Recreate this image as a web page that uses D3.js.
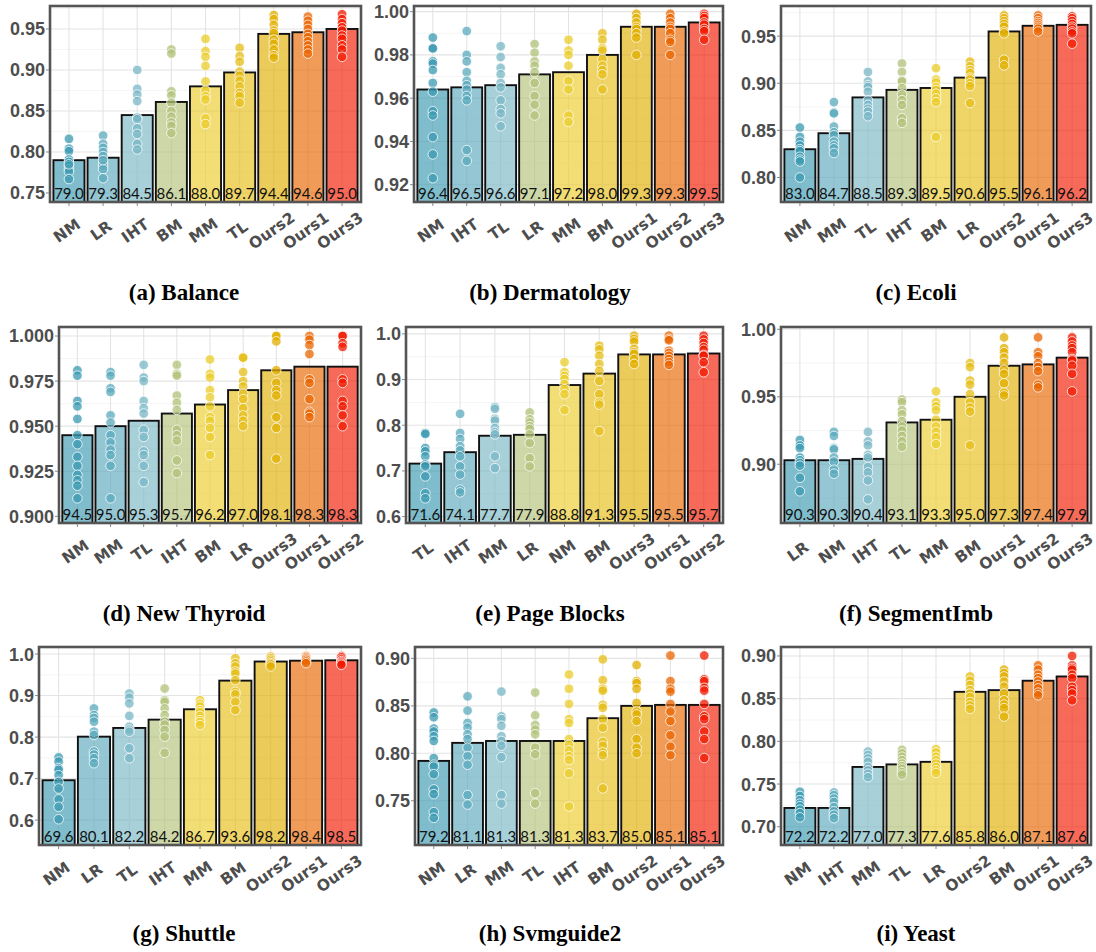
<!DOCTYPE html>
<html lang="en">
<head>
<meta charset="UTF-8">
<title>Accuracy per dataset</title>
<script src="https://cdn.jsdelivr.net/npm/d3@7"></script>
<style>
    body { margin: 0; background: #fff; }
    .ytick { font: bold 18px "Liberation Sans", Arial, sans-serif; fill: #4d4d4d; }
    .xtick { font: bold 15.5px "DejaVu Sans", Verdana, sans-serif; fill: #4d4d4d; }
    .val { font: 15px Lato, "Open Sans", sans-serif; fill: #111; }
    .caption { font: bold 23px "Liberation Serif", "Times New Roman", serif; fill: #000; }
</style>
</head>
<body>
<div id="chart"></div>
<script>
"use strict";

// (a) Balance
var balanceMethods = ["NM", "LR", "IHT", "BM", "MM", "TL", "Ours2", "Ours1", "Ours3"];
var balanceMeans   = [0.790, 0.793, 0.845, 0.861, 0.880, 0.897, 0.944, 0.946, 0.950];
var balanceRuns = [
    [0.816, 0.804, 0.801, 0.791, 0.788, 0.783, 0.779, 0.776, 0.767, 0.785],
    [0.820, 0.810, 0.805, 0.800, 0.795, 0.786, 0.783, 0.779, 0.768, 0.790],
    [0.900, 0.877, 0.870, 0.862, 0.842, 0.840, 0.829, 0.822, 0.810, 0.803],
    [0.925, 0.920, 0.874, 0.869, 0.860, 0.850, 0.843, 0.836, 0.832, 0.823],
    [0.938, 0.923, 0.916, 0.905, 0.886, 0.875, 0.868, 0.864, 0.841, 0.834],
    [0.927, 0.917, 0.910, 0.898, 0.893, 0.887, 0.880, 0.872, 0.868, 0.860],
    [0.967, 0.962, 0.955, 0.948, 0.945, 0.937, 0.932, 0.925, 0.918, 0.915],
    [0.965, 0.960, 0.955, 0.950, 0.944, 0.940, 0.935, 0.930, 0.925, 0.920],
    [0.968, 0.962, 0.957, 0.952, 0.948, 0.942, 0.938, 0.930, 0.925, 0.916]
];
var balanceTicks = [0.75, 0.80, 0.85, 0.90, 0.95];
var balanceLimits = [0.739, 0.978];

// (b) Dermatology
var dermMethods = ["NM", "IHT", "TL", "LR", "MM", "BM", "Ours1", "Ours2", "Ours3"];
var dermMeans   = [0.964, 0.965, 0.966, 0.971, 0.972, 0.980, 0.993, 0.993, 0.995];
var dermRuns = [
    [0.988, 0.983, 0.983, 0.977, 0.976, 0.973, 0.967, 0.963, 0.954, 0.952, 0.942, 0.934, 0.923],
    [0.991, 0.980, 0.977, 0.972, 0.968, 0.966, 0.964, 0.961, 0.959, 0.936, 0.931],
    [0.984, 0.979, 0.974, 0.971, 0.967, 0.965, 0.959, 0.955, 0.953, 0.947],
    [0.985, 0.981, 0.977, 0.975, 0.972, 0.967, 0.961, 0.957, 0.952],
    [0.987, 0.982, 0.980, 0.975, 0.968, 0.964, 0.952, 0.949],
    [0.990, 0.987, 0.983, 0.982, 0.978, 0.975, 0.973, 0.971, 0.964],
    [0.999, 0.997, 0.995, 0.993, 0.992, 0.990, 0.988, 0.980],
    [0.999, 0.997, 0.995, 0.993, 0.992, 0.990, 0.987, 0.986, 0.980],
    [0.999, 0.998, 0.997, 0.995, 0.994, 0.992, 0.991, 0.987]
];
var dermTicks = [0.92, 0.94, 0.96, 0.98, 1.00];
var dermLimits = [0.912, 1.0026];

// (c) Ecoli
var ecoliMethods = ["NM", "MM", "TL", "IHT", "BM", "LR", "Ours2", "Ours1", "Ours3"];
var ecoliMeans   = [0.830, 0.847, 0.885, 0.893, 0.895, 0.906, 0.955, 0.961, 0.962];
var ecoliRuns = [
    [0.853, 0.843, 0.838, 0.834, 0.830, 0.828, 0.822, 0.819, 0.817, 0.800],
    [0.880, 0.869, 0.868, 0.854, 0.848, 0.845, 0.838, 0.834, 0.831, 0.826],
    [0.912, 0.902, 0.898, 0.896, 0.891, 0.882, 0.877, 0.873, 0.870, 0.865],
    [0.921, 0.912, 0.903, 0.902, 0.895, 0.888, 0.882, 0.877, 0.863, 0.858],
    [0.916, 0.904, 0.901, 0.896, 0.893, 0.889, 0.884, 0.880, 0.843],
    [0.923, 0.918, 0.914, 0.911, 0.906, 0.904, 0.900, 0.897, 0.879],
    [0.972, 0.969, 0.966, 0.963, 0.960, 0.955, 0.953, 0.925, 0.919],
    [0.972, 0.969, 0.966, 0.964, 0.962, 0.960, 0.958, 0.955],
    [0.971, 0.969, 0.966, 0.963, 0.960, 0.958, 0.955, 0.953, 0.942]
];
var ecoliTicks = [0.80, 0.85, 0.90, 0.95];
var ecoliLimits = [0.774, 0.982];

// (d) New Thyroid
var thyroidMethods = ["NM", "MM", "TL", "IHT", "BM", "LR", "Ours3", "Ours1", "Ours2"];
var thyroidMeans   = [0.945, 0.950, 0.953, 0.957, 0.962, 0.970, 0.981, 0.983, 0.983];
var thyroidRuns = [
    [0.981, 0.978, 0.964, 0.961, 0.954, 0.945, 0.940, 0.933, 0.928, 0.923, 0.920, 0.917, 0.910],
    [0.980, 0.978, 0.971, 0.969, 0.956, 0.952, 0.945, 0.941, 0.937, 0.934, 0.928, 0.910],
    [0.984, 0.977, 0.975, 0.964, 0.960, 0.957, 0.948, 0.944, 0.936, 0.934, 0.928, 0.919],
    [0.984, 0.979, 0.978, 0.967, 0.963, 0.959, 0.948, 0.945, 0.942, 0.931, 0.924],
    [0.987, 0.979, 0.977, 0.970, 0.966, 0.961, 0.955, 0.953, 0.949, 0.944, 0.934],
    [0.988, 0.988, 0.980, 0.975, 0.972, 0.968, 0.965, 0.960, 0.956, 0.953, 0.950],
    [1.000, 1.000, 0.997, 0.981, 0.974, 0.970, 0.967, 0.955, 0.949, 0.932],
    [1.000, 0.998, 0.995, 0.990, 0.976, 0.974, 0.965, 0.958, 0.957, 0.955],
    [1.000, 1.000, 0.996, 0.994, 0.976, 0.974, 0.964, 0.961, 0.956, 0.950]
];
var thyroidTicks = [0.900, 0.925, 0.950, 0.975, 1.000];
var thyroidLimits = [0.8963, 1.005];

// (e) Page Blocks
var pageMethods = ["TL", "IHT", "MM", "LR", "NM", "BM", "Ours3", "Ours1", "Ours2"];
var pageMeans   = [0.716, 0.741, 0.777, 0.779, 0.888, 0.913, 0.955, 0.955, 0.957];
var pageRuns = [
    [0.783, 0.781, 0.750, 0.743, 0.732, 0.714, 0.710, 0.688, 0.651, 0.640],
    [0.825, 0.783, 0.770, 0.754, 0.745, 0.732, 0.710, 0.692, 0.659, 0.653],
    [0.840, 0.836, 0.814, 0.810, 0.794, 0.785, 0.780, 0.732, 0.706],
    [0.828, 0.813, 0.806, 0.798, 0.792, 0.780, 0.761, 0.728, 0.710],
    [0.938, 0.916, 0.908, 0.901, 0.890, 0.879, 0.868, 0.833],
    [0.974, 0.966, 0.952, 0.934, 0.919, 0.897, 0.868, 0.850, 0.845, 0.787],
    [0.996, 0.989, 0.983, 0.967, 0.960, 0.956, 0.945, 0.934],
    [0.996, 0.989, 0.986, 0.963, 0.958, 0.952, 0.945, 0.938, 0.932],
    [0.996, 0.988, 0.980, 0.971, 0.965, 0.954, 0.952, 0.938, 0.916]
];
var pageTicks = [0.6, 0.7, 0.8, 0.9, 1.0];
var pageLimits = [0.586, 1.015];

// (f) SegmentImb
var segmentMethods = ["LR", "NM", "IHT", "TL", "MM", "BM", "Ours1", "Ours2", "Ours3"];
var segmentMeans   = [0.903, 0.903, 0.904, 0.931, 0.933, 0.950, 0.973, 0.974, 0.979];
var segmentRuns = [
    [0.918, 0.914, 0.912, 0.905, 0.903, 0.901, 0.899, 0.890, 0.880],
    [0.924, 0.921, 0.912, 0.911, 0.905, 0.902, 0.896, 0.893],
    [0.924, 0.917, 0.914, 0.907, 0.905, 0.898, 0.894, 0.888, 0.874],
    [0.948, 0.946, 0.940, 0.937, 0.932, 0.928, 0.925, 0.921, 0.917, 0.913],
    [0.954, 0.946, 0.943, 0.940, 0.933, 0.928, 0.924, 0.920, 0.915],
    [0.975, 0.972, 0.962, 0.959, 0.952, 0.946, 0.942, 0.939, 0.914],
    [0.994, 0.986, 0.983, 0.979, 0.975, 0.970, 0.967, 0.960, 0.953, 0.951],
    [0.994, 0.983, 0.980, 0.975, 0.972, 0.969, 0.959, 0.957],
    [0.994, 0.991, 0.988, 0.986, 0.983, 0.978, 0.977, 0.973, 0.967, 0.954]
];
var segmentTicks = [0.90, 0.95, 1.00];
var segmentLimits = [0.8565, 1.0017];

// (g) Shuttle
var shuttleMethods = ["NM", "LR", "TL", "IHT", "MM", "BM", "Ours2", "Ours1", "Ours3"];
var shuttleMeans   = [0.696, 0.801, 0.822, 0.842, 0.867, 0.936, 0.982, 0.984, 0.985];
var shuttleRuns = [
    [0.751, 0.741, 0.725, 0.721, 0.708, 0.692, 0.676, 0.650, 0.632, 0.602],
    [0.869, 0.853, 0.846, 0.837, 0.813, 0.805, 0.765, 0.758, 0.749, 0.737],
    [0.905, 0.895, 0.881, 0.851, 0.825, 0.818, 0.813, 0.773, 0.749],
    [0.917, 0.889, 0.885, 0.869, 0.853, 0.837, 0.830, 0.817, 0.801, 0.762],
    [0.889, 0.880, 0.874, 0.865, 0.860, 0.851, 0.841, 0.836, 0.829],
    [0.990, 0.978, 0.970, 0.958, 0.953, 0.937, 0.909, 0.903, 0.885, 0.865],
    [0.994, 0.990, 0.986, 0.982, 0.978, 0.975, 0.970],
    [0.995, 0.992, 0.989, 0.986, 0.982, 0.978],
    [0.995, 0.992, 0.987, 0.983, 0.980, 0.977, 0.974]
];
var shuttleTicks = [0.6, 0.7, 0.8, 0.9, 1.0];
var shuttleLimits = [0.54, 1.017];

// (h) Svmguide2
var svmMethods = ["NM", "LR", "MM", "TL", "IHT", "BM", "Ours2", "Ours1", "Ours3"];
var svmMeans   = [0.792, 0.811, 0.813, 0.813, 0.813, 0.837, 0.850, 0.851, 0.851];
var svmRuns = [
    [0.843, 0.838, 0.826, 0.823, 0.818, 0.813, 0.795, 0.788, 0.786, 0.778, 0.762, 0.757, 0.738, 0.732],
    [0.860, 0.845, 0.832, 0.827, 0.820, 0.815, 0.806, 0.797, 0.788, 0.756, 0.746],
    [0.865, 0.839, 0.836, 0.829, 0.818, 0.813, 0.808, 0.796, 0.756, 0.747],
    [0.864, 0.840, 0.830, 0.825, 0.820, 0.806, 0.799, 0.758, 0.747],
    [0.883, 0.868, 0.852, 0.836, 0.832, 0.815, 0.809, 0.803, 0.797, 0.793, 0.779, 0.744],
    [0.899, 0.877, 0.868, 0.866, 0.851, 0.848, 0.836, 0.827, 0.812, 0.808, 0.801, 0.798, 0.763],
    [0.893, 0.876, 0.874, 0.868, 0.853, 0.844, 0.841, 0.834, 0.815, 0.806, 0.800],
    [0.903, 0.876, 0.868, 0.865, 0.852, 0.844, 0.834, 0.819, 0.807, 0.798],
    [0.903, 0.878, 0.876, 0.869, 0.866, 0.852, 0.839, 0.836, 0.823, 0.815, 0.795]
];
var svmTicks = [0.75, 0.80, 0.85, 0.90];
var svmLimits = [0.7034, 0.912];

// (i) Yeast
var yeastMethods = ["NM", "IHT", "MM", "TL", "LR", "Ours2", "BM", "Ours1", "Ours3"];
var yeastMeans   = [0.722, 0.722, 0.770, 0.773, 0.776, 0.858, 0.860, 0.871, 0.876];
var yeastRuns = [
    [0.741, 0.736, 0.731, 0.727, 0.724, 0.720, 0.716, 0.711],
    [0.740, 0.737, 0.733, 0.729, 0.723, 0.718, 0.714, 0.710],
    [0.788, 0.784, 0.780, 0.776, 0.770, 0.766, 0.762, 0.758],
    [0.790, 0.786, 0.782, 0.778, 0.774, 0.771, 0.768, 0.764, 0.761],
    [0.791, 0.787, 0.782, 0.778, 0.774, 0.770, 0.766, 0.763],
    [0.876, 0.871, 0.866, 0.860, 0.856, 0.852, 0.846, 0.842, 0.838],
    [0.884, 0.880, 0.876, 0.870, 0.864, 0.856, 0.848, 0.843, 0.839, 0.829],
    [0.889, 0.884, 0.878, 0.874, 0.870, 0.866, 0.862, 0.857, 0.854],
    [0.900, 0.889, 0.886, 0.884, 0.878, 0.874, 0.864, 0.860, 0.856, 0.848]
];
var yeastTicks = [0.70, 0.75, 0.80, 0.85, 0.90];
var yeastLimits = [0.6786, 0.9105];

// colour by rank, Zissou1 ramp
var zissou = ["#3B9AB2", "#78B7C5", "#EBCC2A", "#E1AF00", "#F21A00"];

var panels = [
    { caption: "(a) Balance",     methods: balanceMethods, means: balanceMeans, runs: balanceRuns, ticks: balanceTicks, limits: balanceLimits, fmt: ".2f", left: 50 },
    { caption: "(b) Dermatology", methods: dermMethods,    means: dermMeans,    runs: dermRuns,    ticks: dermTicks,    limits: dermLimits,    fmt: ".2f", left: 414 },
    { caption: "(c) Ecoli",       methods: ecoliMethods,   means: ecoliMeans,   runs: ecoliRuns,   ticks: ecoliTicks,   limits: ecoliLimits,   fmt: ".2f", left: 781 },
    { caption: "(d) New Thyroid", methods: thyroidMethods, means: thyroidMeans, runs: thyroidRuns, ticks: thyroidTicks, limits: thyroidLimits, fmt: ".3f", left: 59 },
    { caption: "(e) Page Blocks", methods: pageMethods,    means: pageMeans,    runs: pageRuns,    ticks: pageTicks,    limits: pageLimits,    fmt: ".1f", left: 406 },
    { caption: "(f) SegmentImb",  methods: segmentMethods, means: segmentMeans, runs: segmentRuns, ticks: segmentTicks, limits: segmentLimits, fmt: ".2f", left: 781 },
    { caption: "(g) Shuttle",     methods: shuttleMethods, means: shuttleMeans, runs: shuttleRuns, ticks: shuttleTicks, limits: shuttleLimits, fmt: ".1f", left: 39 },
    { caption: "(h) Svmguide2",   methods: svmMethods,     means: svmMeans,     runs: svmRuns,     ticks: svmTicks,     limits: svmLimits,     fmt: ".2f", left: 415 },
    { caption: "(i) Yeast",       methods: yeastMethods,   means: yeastMeans,   runs: yeastRuns,   ticks: yeastTicks,   limits: yeastLimits,   fmt: ".2f", left: 781 }
];

var colRight  = [361, 723, 1091];
var rowTop    = [6, 327, 647];
var rowBottom = [202, 523, 845];
var captionY  = [300, 621, 941];

var svg = d3.select("#chart").append("svg")
    .attr("width", 1096)
    .attr("height", 952)
    .attr("viewBox", [0, 0, 1096, 952].join(" "));

svg.append("rect").attr("width", 1096).attr("height", 952).attr("fill", "#fff");

var rankColor = d3.scaleLinear()
    .domain([0, 2, 4, 6, 8])
    .range(zissou)
    .interpolate(d3.interpolateRgb);

function drawPanel(p, i)
{
    var col = i % 3, row = Math.floor(i / 3);
    var left = p.left, right = colRight[col], top = rowTop[row], bottom = rowBottom[row];

    var x = d3.scaleBand()
        .domain(p.methods)
        .range([left, right])
        .paddingInner(0.09)
        .paddingOuter(0.1);

    var y = d3.scaleLinear()
        .domain(p.limits)
        .range([bottom, top]);

    var g = svg.append("g");

    var clipId = "clip" + i;
    g.append("clipPath").attr("id", clipId)
      .append("rect")
        .attr("x", left).attr("y", top)
        .attr("width", right - left).attr("height", bottom - top);

    var inner = g.append("g").attr("clip-path", "url(#" + clipId + ")");

    // grid: minor lines halfway between ticks
    var step = p.ticks[1] - p.ticks[0];
    var minor = d3.range(-1, p.ticks.length + 1)
        .map(function(k) { return p.ticks[0] + (k + 0.5) * step; })
        .filter(function(v) { return v > p.limits[0] && v < p.limits[1]; });

    inner.selectAll("line.minor").data(minor).enter().append("line")
        .attr("x1", left).attr("x2", right)
        .attr("y1", y).attr("y2", y)
        .attr("stroke", "#f2f2f2").attr("stroke-width", 0.8);

    inner.selectAll("line.major").data(p.ticks).enter().append("line")
        .attr("x1", left).attr("x2", right)
        .attr("y1", y).attr("y2", y)
        .attr("stroke", "#e4e4e4").attr("stroke-width", 1.1);

    inner.selectAll("line.vgrid").data(p.methods).enter().append("line")
        .attr("x1", function(d) { return x(d) + x.bandwidth() / 2; })
        .attr("x2", function(d) { return x(d) + x.bandwidth() / 2; })
        .attr("y1", top).attr("y2", bottom)
        .attr("stroke", "#e4e4e4").attr("stroke-width", 1.1);

    // bars
    inner.selectAll("rect.bar").data(p.means).enter().append("rect")
        .attr("x", function(d, k) { return x(p.methods[k]); })
        .attr("width", x.bandwidth())
        .attr("y", function(d) { return y(d); })
        .attr("height", function(d) { return bottom - y(d) + 6; })
        .attr("fill", function(d, k) { return rankColor(k); })
        .attr("fill-opacity", 0.65)
        .attr("stroke", "#111")
        .attr("stroke-width", 1.9);

    // runs
    p.runs.forEach(function(vals, k) {
        var cx = x(p.methods[k]) + x.bandwidth() / 2;
        inner.selectAll(null).data(vals).enter().append("circle")
            .attr("cx", cx)
            .attr("cy", function(d) { return y(d); })
            .attr("r", 4.8)
            .attr("fill", rankColor(k))
            .attr("fill-opacity", 0.75)
            .attr("stroke", "#fff")
            .attr("stroke-opacity", 0.85)
            .attr("stroke-width", 0.9);
    });

    // values inside bars
    inner.selectAll("text.val").data(p.means).enter().append("text")
        .attr("class", "val")
        .attr("x", function(d, k) { return x(p.methods[k]) + x.bandwidth() / 2; })
        .attr("y", bottom - 3)
        .attr("text-anchor", "middle")
        .text(function(d) { return d3.format(".1f")(d * 100); });

    // panel border
    g.append("rect")
        .attr("x", left).attr("y", top)
        .attr("width", right - left).attr("height", bottom - top)
        .attr("fill", "none")
        .attr("stroke", "#555")
        .attr("stroke-width", 2.6);

    // y axis
    var fmt = d3.format(p.fmt);
    g.selectAll("line.ytk").data(p.ticks).enter().append("line")
        .attr("x1", left - 4).attr("x2", left - 1)
        .attr("y1", y).attr("y2", y)
        .attr("stroke", "#888");
    g.selectAll("text.ytick").data(p.ticks).enter().append("text")
        .attr("class", "ytick")
        .attr("x", left - 5)
        .attr("y", y)
        .attr("dy", "0.36em")
        .attr("text-anchor", "end")
        .text(fmt);

    // x axis
    g.selectAll("line.xtk").data(p.methods).enter().append("line")
        .attr("x1", function(d) { return x(d) + x.bandwidth() / 2; })
        .attr("x2", function(d) { return x(d) + x.bandwidth() / 2; })
        .attr("y1", bottom + 1).attr("y2", bottom + 4)
        .attr("stroke", "#888");
    g.selectAll("text.xtick").data(p.methods).enter().append("text")
        .attr("class", "xtick")
        .attr("text-anchor", "middle")
        .attr("transform", function(d) {
            return "translate(" + (x(d) + x.bandwidth() / 2 + 1) + "," + (bottom + 33) + ") rotate(-35)";
        })
        .text(function(d) { return d; });

    svg.append("text")
        .attr("class", "caption")
        .attr("x", 184 + 366 * col)
        .attr("y", captionY[row])
        .attr("text-anchor", "middle")
        .text(p.caption);
}

panels.forEach(drawPanel);
</script>
</body>
</html>
